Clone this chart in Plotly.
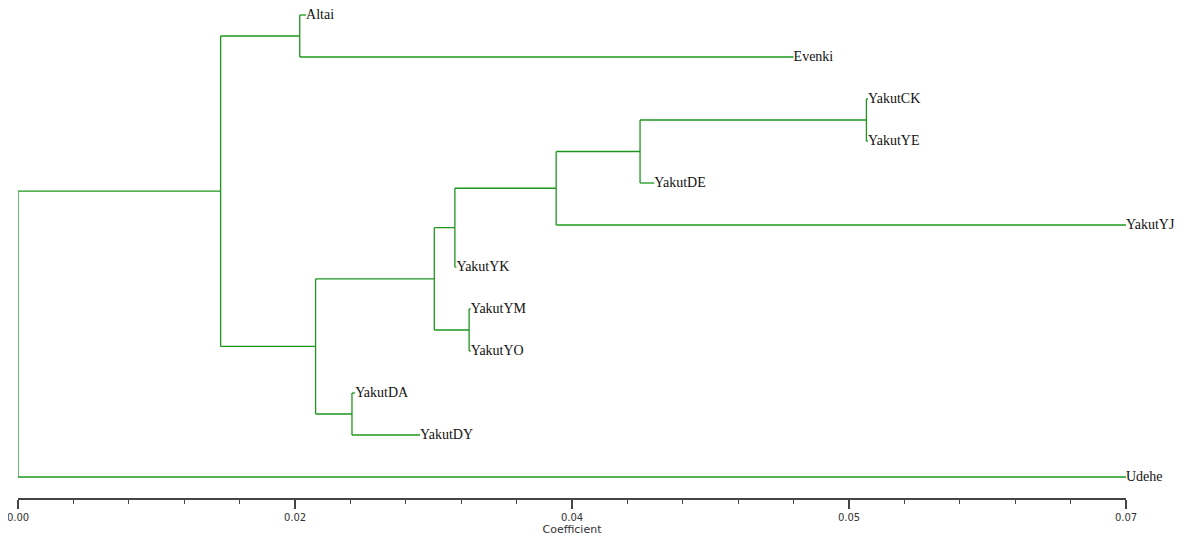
import plotly.graph_objects as go

# ---- data ----
leaves = ["Altai", "Evenki", "YakutCK", "YakutYE", "YakutDE", "YakutYJ",
          "YakutYK", "YakutYM", "YakutYO", "YakutDA", "YakutDY", "Udehe"]
leaf_tip = [0.0182, 0.0490, 0.0537, 0.0537, 0.0402, 0.0700,
            0.0277, 0.0286, 0.0286, 0.0213, 0.0254, 0.0700]
# internal nodes (ids continue after the leaves): child A, child B, height
merge_a = [2, 12, 13, 14, 7, 15, 9, 17, 0, 20, 21]
merge_b = [3, 4, 5, 6, 8, 16, 10, 18, 1, 19, 11]
merge_h = [0.0536, 0.0393, 0.0340, 0.0276, 0.0285, 0.0263,
           0.0211, 0.0188, 0.0178, 0.0128, 0.0000]

major_ticks = [0.0, 0.0175, 0.035, 0.0525, 0.07]
major_text = ["0.00", "0.02", "0.04", "0.05", "0.07"]
axis_title = "Coefficient"

# ---- build segments ----
n = len(leaves)
node_x = list(leaf_tip)
node_y = list(range(n))
for a, b, h in zip(merge_a, merge_b, merge_h):
    node_x.append(h)
    node_y.append((node_y[a] + node_y[b]) / 2)

xs, ys = [], []
for a, b, h in zip(merge_a, merge_b, merge_h):
    xs += [h, h, None]
    ys += [node_y[a], node_y[b], None]
    for c in (a, b):
        xs += [h, node_x[c], None]
        ys += [node_y[c], node_y[c], None]

GREEN = "#1e961e"
fig = go.Figure()
fig.add_trace(go.Scatter(x=xs, y=ys, mode="lines",
                         line=dict(color=GREEN, width=1.3),
                         hoverinfo="skip", showlegend=False))
fig.add_trace(go.Scatter(x=leaf_tip, y=list(range(n)), mode="text",
                         text=leaves, textposition="middle right",
                         textfont=dict(family="Liberation Serif", size=14, color="#111"),
                         hoverinfo="skip", showlegend=False, cliponaxis=False))

fig.update_layout(
    width=1175, height=533,
    margin=dict(l=10, r=57, t=0, b=43),
    paper_bgcolor="white", plot_bgcolor="white",
    xaxis=dict(range=[0, 0.07], showgrid=False, zeroline=False,
               showline=True, linecolor="#444", linewidth=1.5,
               ticks="outside", ticklen=9, tickwidth=1.5, tickcolor="#444",
               tickvals=major_ticks, ticktext=major_text,
               ticklabeloverflow="allow",
               tickfont=dict(family="DejaVu Sans", size=10, color="#333"),
               minor=dict(ticks="outside", ticklen=4, tickwidth=1.2, tickcolor="#444",
                          tick0=0, dtick=0.0035, showgrid=False),
               title=dict(text=axis_title, standoff=2,
                          font=dict(family="DejaVu Sans", size=11, color="#333"))),
    yaxis=dict(range=[11.5, -0.1667], visible=False, showgrid=False, zeroline=False),
)
fig.write_html("out.html")
